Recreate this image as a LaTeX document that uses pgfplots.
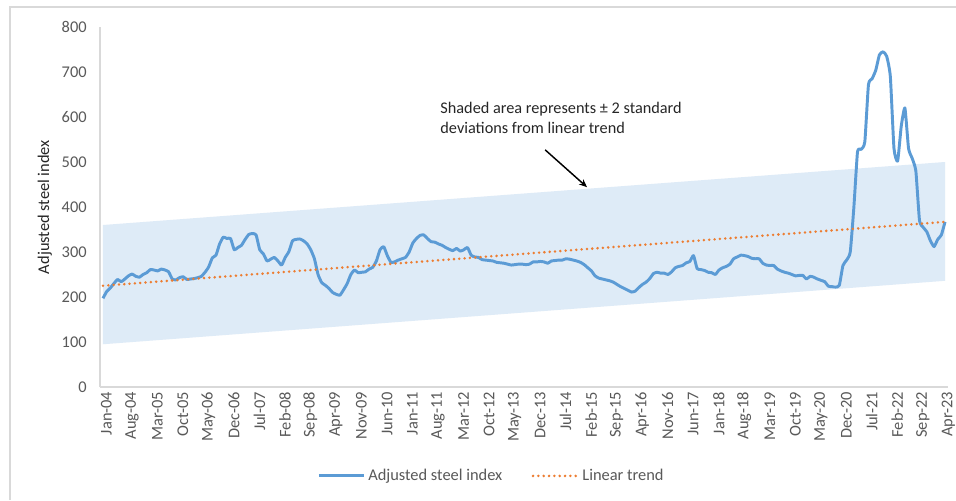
\documentclass[border=0pt]{standalone}
\usepackage{pgfplots}
\pgfplotsset{compat=1.18}
\usepackage{pgfplotstable}
\usepackage{fontspec}
\setmainfont{Carlito}
\usetikzlibrary{arrows.meta}
\definecolor{steelblue}{HTML}{5B9BD5}
\definecolor{trendorange}{HTML}{ED7D31}
\definecolor{bandblue}{HTML}{DEEBF7}
\definecolor{tickgray}{HTML}{595959}
\definecolor{axisgray}{HTML}{D9D9D9}
\definecolor{framegray}{HTML}{D9D9D9}

\pgfplotstableread{
m v
0 197
1 212
2 220
3 230
4 239
5 234
6 240
7 247
8 251
9 246
10 244
11 250
12 254
13 261
14 260
15 258
16 262
17 260
18 256
19 240
20 238
21 243
22 245
23 239
24 240
25 241
26 243
27 246
28 255
29 267
30 287
31 293
32 318
33 333
34 330
35 330
36 305
37 310
38 315
39 328
40 339
41 341
42 338
43 305
44 296
45 280
46 284
47 288
48 280
49 271
50 288
51 301
52 325
53 328
54 329
55 325
56 318
57 305
58 285
59 250
60 232
61 226
62 219
63 210
64 206
65 204
66 216
67 230
68 250
69 260
70 254
71 255
72 256
73 262
74 266
75 280
76 305
77 312
78 292
79 277
80 278
81 282
82 285
83 288
84 300
85 320
86 330
87 337
88 338
89 330
90 323
91 322
92 318
93 315
94 310
95 306
96 303
97 308
98 302
99 305
100 310
101 293
102 289
103 288
104 283
105 282
106 281
107 280
108 277
109 276
110 275
111 273
112 271
113 272
114 273
115 273
116 272
117 273
118 278
119 278
120 279
121 278
122 275
123 280
124 281
125 282
126 282
127 285
128 284
129 282
130 280
131 277
132 272
133 265
134 258
135 247
136 242
137 240
138 238
139 236
140 233
141 228
142 223
143 219
144 215
145 211
146 213
147 221
148 228
149 233
150 241
151 252
152 255
153 253
154 253
155 250
156 256
157 265
158 268
159 270
160 276
161 279
162 292
163 263
164 261
165 259
166 255
167 254
168 250
169 260
170 265
171 268
172 273
173 285
174 289
175 293
176 292
177 290
178 286
179 285
180 285
181 275
182 271
183 270
184 270
185 262
186 258
187 255
188 253
189 250
190 247
191 248
192 248
193 240
194 246
195 244
196 240
197 237
198 234
199 224
200 223
201 222
202 226
203 270
204 282
205 300
206 400
207 523
208 528
209 545
210 672
211 685
212 704
213 738
214 745
215 735
216 690
217 530
218 502
219 580
220 620
221 530
222 508
223 480
224 370
225 355
226 345
227 325
228 312
229 328
230 338
231 367
}\steeldata

\begin{document}
\begin{tikzpicture}[x=1pt,y=1pt]
\useasboundingbox (0,0) rectangle (717,375);
\fill[white] (0,0) rectangle (717,375);
\draw[framegray, line width=1.2pt] (7.5,0) -- (7.5,369.75) -- (717.5,369.75);
\begin{axis}[
  at={(75pt,84.75pt)}, anchor=south west,
  scale only axis, width=636pt, height=270pt,
  xmin=-0.82, xmax=231.82, ymin=0, ymax=800,
  axis lines=left,
  axis line style={-, draw=axisgray, line width=0.9pt},
  major tick length=0pt,
  xtick={0,7,...,231},
  xticklabels={Jan-04,Aug-04,Mar-05,Oct-05,May-06,Dec-06,Jul-07,Feb-08,Sep-08,Apr-09,Nov-09,Jun-10,Jan-11,Aug-11,Mar-12,Oct-12,May-13,Dec-13,Jul-14,Feb-15,Sep-15,Apr-16,Nov-16,Jun-17,Jan-18,Aug-18,Mar-19,Oct-19,May-20,Dec-20,Jul-21,Feb-22,Sep-22,Apr-23},
  xticklabel style={rotate=90, anchor=east, font=\fontsize{12.3}{14}\selectfont, text=tickgray, yshift=-2.5pt},
  ytick={0,100,...,800},
  yticklabel style={font=\fontsize{12.3}{14}\selectfont, text=tickgray, anchor=east, xshift=-6.5pt},
  /pgf/number format/assume math mode=true,
  ylabel={Adjusted steel index},
  ylabel style={at={(axis description cs:-0.065,0.5)}, anchor=center, font=\fontsize{12.3}{14}\selectfont, text=black!85},
  legend style={at={(axis description cs:0.462,-0.247)}, anchor=center, draw=none, fill=none,
    legend columns=2, font=\fontsize{12.3}{14}\selectfont, text=tickgray,
    /tikz/every even column/.append style={column sep=20pt}},
  legend image code/.code={\draw[#1] (0pt,0pt) -- (34pt,0pt);},
  clip=false,
]
\addplot[fill=bandblue, draw=none, forget plot] coordinates {(0,95) (231,236) (231,500) (0,360)} -- cycle;
\addplot[steelblue, line width=2.2pt, line join=round, smooth, tension=0.3] table[x=m,y=v]{\steeldata};
\addlegendentry{Adjusted steel index}
\addplot[trendorange, line width=2.1pt, line cap=round, dash pattern=on 0pt off 4pt] coordinates {(0,225) (231,367)};
\addlegendentry{Linear trend}
\node[anchor=north west, align=left, inner sep=0pt, font=\fontsize{12.2}{15}\selectfont, text=black!85] at (axis cs:92.5,634) {Shaded area represents ± 2 standard\\deviations from linear trend};
\draw[-{Stealth[length=6pt,width=5pt]}, line width=1.1pt, black] (axis cs:121.3,527) -- (axis cs:132.8,444);
\end{axis}
\end{tikzpicture}
\end{document}
